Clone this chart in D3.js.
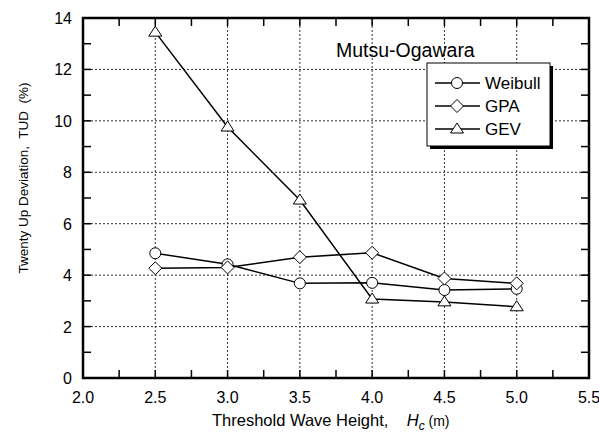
<!DOCTYPE html>
<html>
<head>
<meta charset="utf-8">
<script src="https://cdn.jsdelivr.net/npm/d3@7"></script>
<style>
  html, body { margin: 0; padding: 0; background: #fff; }
  svg { display: block; font-family: "Liberation Sans", Arial, sans-serif; }
</style>
</head>
<body>
<svg id="chart" width="599" height="439"></svg>
<script>
// Threshold wave heights (m)
const thresholds = [2.5, 3.0, 3.5, 4.0, 4.5, 5.0];
// Twenty Up Deviation (%) for each fitted distribution
const weibull = [4.85, 4.42, 3.68, 3.70, 3.42, 3.47];
const gpa     = [4.27, 4.30, 4.70, 4.87, 3.87, 3.68];
const gev     = [13.45, 9.76, 6.92, 3.07, 2.96, 2.77];
const seriesNames = ["Weibull", "GPA", "GEV"];
const xTicks = [2.0, 2.5, 3.0, 3.5, 4.0, 4.5, 5.0, 5.5];
const yTicks = [0, 2, 4, 6, 8, 10, 12, 14];

const svg = d3.select("#chart");
const m = { left: 83, right: 589, top: 18, bottom: 378 };

const x = d3.scaleLinear().domain([2.0, 5.5]).range([m.left, m.right]);
const y = d3.scaleLinear().domain([0, 14]).range([m.bottom, m.top]);

// dotted grid
const grid = svg.append("g").attr("stroke", "#333").attr("stroke-width", 1)
  .attr("stroke-dasharray", "2,2").attr("fill", "none");
xTicks.slice(1, -1).forEach(v => {
  grid.append("line").attr("x1", x(v)).attr("x2", x(v))
    .attr("y1", m.top).attr("y2", m.bottom);
});
yTicks.slice(1, -1).forEach(v => {
  grid.append("line").attr("y1", y(v)).attr("y2", y(v))
    .attr("x1", m.left).attr("x2", m.right);
});

// inward ticks on all four sides
const tickLen = 8;
const xMinor = d3.range(2.25, 5.5, 0.25);
const yMinor = d3.range(1, 14, 1);
const axisG = svg.append("g").attr("stroke", "#000").attr("stroke-width", 1.5);
xMinor.forEach(v => {
  axisG.append("line").attr("x1", x(v)).attr("x2", x(v)).attr("y1", m.bottom).attr("y2", m.bottom - tickLen);
  axisG.append("line").attr("x1", x(v)).attr("x2", x(v)).attr("y1", m.top).attr("y2", m.top + tickLen);
});
yMinor.forEach(v => {
  axisG.append("line").attr("y1", y(v)).attr("y2", y(v)).attr("x1", m.left).attr("x2", m.left + tickLen);
  axisG.append("line").attr("y1", y(v)).attr("y2", y(v)).attr("x1", m.right).attr("x2", m.right - tickLen);
});

// frame
svg.append("rect").attr("x", m.left).attr("y", m.top)
  .attr("width", m.right - m.left).attr("height", m.bottom - m.top)
  .attr("fill", "none").attr("stroke", "#000").attr("stroke-width", 2.5);

// tick labels
svg.append("g").selectAll("text").data(xTicks).join("text")
  .attr("x", d => x(d)).attr("y", m.bottom + 25)
  .attr("text-anchor", "middle").attr("font-size", 16)
  .text(d => d.toFixed(1));
svg.append("g").selectAll("text").data(yTicks).join("text")
  .attr("x", m.left - 11).attr("y", d => y(d) + 6)
  .attr("text-anchor", "end").attr("font-size", 16)
  .text(d => d);

// axis titles
svg.append("text")
  .attr("transform", "translate(28,178) rotate(-90)")
  .attr("text-anchor", "middle").attr("font-size", 13.5)
  .attr("xml:space", "preserve")
  .text("Twenty Up Deviation,  TUD  (%)");

const xt = svg.append("text").attr("x", 212).attr("y", 426).attr("font-size", 16.5)
  .attr("xml:space", "preserve");
xt.append("tspan").text("Threshold Wave Height,    ");
xt.append("tspan").attr("font-style", "italic").text("H");
xt.append("tspan").attr("font-size", 12).attr("font-style", "italic").attr("dy", 4).text("c");
xt.append("tspan").attr("font-size", 14).attr("dy", -4).text(" (m)");

// site name
svg.append("text").attr("x", 336).attr("y", 57).attr("font-size", 19.5)
  .text("Mutsu-Ogawara");

// marker shapes
function marker(g, type, cx, cy) {
  if (type === "circle") {
    g.append("circle").attr("cx", cx).attr("cy", cy).attr("r", 5.5)
      .attr("fill", "#fff").attr("stroke", "#000").attr("stroke-width", 1);
  } else if (type === "diamond") {
    const s = 6.5;
    g.append("path").attr("d", `M${cx},${cy - s}L${cx + s},${cy}L${cx},${cy + s}L${cx - s},${cy}Z`)
      .attr("fill", "#fff").attr("stroke", "#000").attr("stroke-width", 1);
  } else {
    const h = 10, w = 6.5;
    g.append("path").attr("d", `M${cx},${cy - h * 0.6}L${cx + w},${cy + h * 0.4}L${cx - w},${cy + h * 0.4}Z`)
      .attr("fill", "#fff").attr("stroke", "#000").attr("stroke-width", 1);
  }
}

const series = [
  { name: seriesNames[0], values: weibull, type: "circle" },
  { name: seriesNames[1], values: gpa, type: "diamond" },
  { name: seriesNames[2], values: gev, type: "triangle" }
];

const line = d3.line().x(d => x(d[0])).y(d => y(d[1]));
const plot = svg.append("g");
series.forEach(s => {
  const pts = thresholds.map((t, i) => [t, s.values[i]]);
  plot.append("path").attr("d", line(pts)).attr("fill", "none")
    .attr("stroke", "#000").attr("stroke-width", 1.5);
});
series.forEach(s => {
  const g = plot.append("g");
  thresholds.forEach((t, i) => marker(g, s.type, x(t), y(s.values[i])));
});

// legend with drop shadow
const lg = svg.append("g");
const lx = 427, ly = 63, lw = 123, lh = 83;
lg.append("rect").attr("x", lx + 3).attr("y", ly + 3).attr("width", lw).attr("height", lh).attr("fill", "#000");
lg.append("rect").attr("x", lx).attr("y", ly).attr("width", lw).attr("height", lh)
  .attr("fill", "#fff").attr("stroke", "#000").attr("stroke-width", 1);
const rowY = [83, 106, 129];
series.forEach((s, i) => {
  lg.append("line").attr("x1", 435).attr("x2", 480).attr("y1", rowY[i]).attr("y2", rowY[i])
    .attr("stroke", "#000").attr("stroke-width", 1.5);
  marker(lg, s.type, 457, rowY[i]);
  lg.append("text").attr("x", 485).attr("y", rowY[i] + 6).attr("font-size", 17).text(s.name);
});
</script>
</body>
</html>
